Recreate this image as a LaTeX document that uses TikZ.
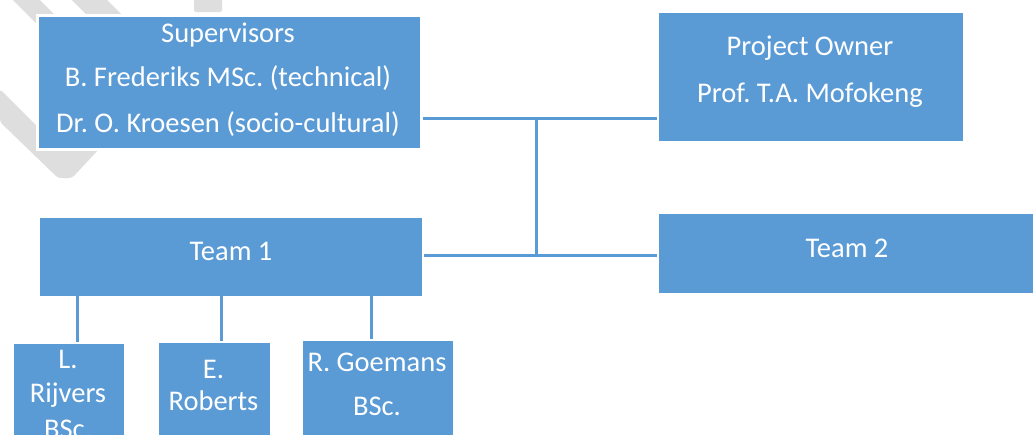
\documentclass[tikz,border=0pt]{standalone}
\usepackage{fontspec}
\setmainfont{Carlito}
\frenchspacing
\definecolor{obl}{HTML}{5B9BD5}
\definecolor{wm}{HTML}{DEDEDE}
\tikzset{
  box/.style={rectangle, fill=obl, draw=white, line width=1.5pt, anchor=north west, inner sep=0pt},
  txt/.style={anchor=base, text=white, inner sep=0pt, font=\fontsize{28.5}{34}\selectfont},
  conn/.style={draw=obl, line width=3pt},
  wmark/.style={fill=wm, draw=none}
}
\begin{document}
\begin{tikzpicture}[x=1pt, y=-1pt]
\path[use as bounding box, clip] (0,0) rectangle (1033,434);
% watermark fragments
\fill[wmark, rounded corners=3pt] (0,89) -- (40,129) -- (40,148) -- (100,148) -- (72,178) -- (58,178) -- (0,122) -- cycle;
\fill[wmark] (13,0) -- (40,0) -- (80,40) -- (53,40) -- cycle;
\fill[wmark] (72,0) -- (107,0) -- (147,40) -- (112,40) -- cycle;
\fill[wmark, rounded corners=2pt] (194,-5) rectangle (222,12);
% boxes
\node[box, minimum width=384pt, minimum height=134pt, line width=2.5pt] (sup) at (36,14) {};
\node[box, minimum width=306pt, minimum height=130pt] (po) at (657,11) {};
\node[box, minimum width=384pt, minimum height=80pt] (t1) at (38,216) {};
\node[box, minimum width=390pt, minimum height=81pt] (t2) at (657,212) {};
\node[box, minimum width=112pt, minimum height=110pt] (b1) at (12,342) {};
\node[box, minimum width=113pt, minimum height=110pt] (b2) at (157,341) {};
\node[box, minimum width=152pt, minimum height=110pt] (b3) at (301,339) {};
% texts
\node[txt] (s1) at (228,42) {Supervisors};
\node[txt] (s2) at (228,86) {B. Frederiks MSc. (technical)};
\node[txt] (s3) at (228,132) {Dr. O. Kroesen (socio-cultural)};
\node[txt] (p1) at (810,55) {Project Owner};
\node[txt] (p2) at (810,102) {Prof. T.A. Mofokeng};
\node[txt] (tt1) at (231,260) {Team 1};
\node[txt] (tt2) at (847,257) {Team 2};
\node[txt] (l1) at (68,368) {L.};
\node[txt] (l2) at (68,402) {Rijvers};
\node[txt] (l3) at (68,438) {BSc.};
\node[txt] (e1) at (213.5,378) {E.};
\node[txt] (e2) at (213.5,410) {Roberts};
\node[txt] (r1) at (377,371) {R. Goemans};
\node[txt] (r2) at (377,415) {BSc.};
% connectors
\coordinate (c1) at (536,118);
\coordinate (c2) at (536,255);
\draw[conn] (sup.east |- c1) -- (po.west |- c1);
\draw[conn] (c1) -- (c2);
\draw[conn] (t1.east |- c2) -- (t2.west |- c2);
\coordinate (k1) at (77,296);
\coordinate (k2) at (221,296);
\coordinate (k3) at (371,296);
\draw[conn] (k1) -- (k1 |- b1.north);
\draw[conn] (k2) -- (k2 |- b2.north);
\draw[conn] (k3) -- (k3 |- b3.north);
\end{tikzpicture}
\end{document}
